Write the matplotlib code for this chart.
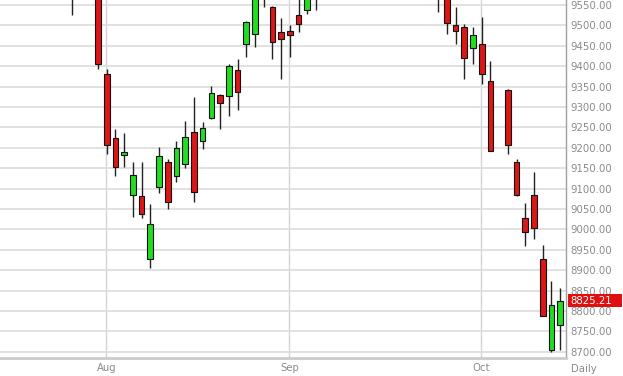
import matplotlib
matplotlib.use("Agg")
import matplotlib.pyplot as plt
import matplotlib.transforms as mtransforms
from matplotlib.patches import Rectangle
import numpy as np

# daily OHLC (values above ~9562 are off the top, rough guesses)
dates = ['2014-07-28', '2014-07-31', '2014-08-01', '2014-08-04', '2014-08-05',
         '2014-08-06', '2014-08-07', '2014-08-08', '2014-08-11', '2014-08-12',
         '2014-08-13', '2014-08-14', '2014-08-15', '2014-08-18', '2014-08-19',
         '2014-08-20', '2014-08-21', '2014-08-22', '2014-08-25', '2014-08-26',
         '2014-08-27', '2014-08-28', '2014-08-29', '2014-09-01', '2014-09-02',
         '2014-09-03', '2014-09-04', '2014-09-24', '2014-09-25', '2014-09-26',
         '2014-09-29', '2014-09-30', '2014-10-01', '2014-10-02', '2014-10-06',
         '2014-10-07', '2014-10-08', '2014-10-09', '2014-10-10', '2014-10-13',
         '2014-10-14']
opens = [9640, 9620, 9381, 9223, 9183, 9083, 9081, 8927, 9105, 9166,
         9132, 9159, 9239, 9217, 9274, 9329, 9327, 9391, 9454, 9480,
         9590, 9546, 9483, 9486, 9525, 9539, 9630, 9600, 9600, 9501,
         9495, 9444, 9454, 9364, 9342, 9164, 9028, 9084, 8927, 8703,
         8766]
highs = [9655, 9630, 9393, 9245, 9237, 9166, 9166, 9062, 9203, 9172,
         9217, 9266, 9325, 9264, 9351, 9332, 9405, 9417, 9512, 9610,
         9610, 9548, 9517, 9501, 9580, 9650, 9740, 9620, 9615, 9544,
         9503, 9497, 9521, 9413, 9343, 9172, 9065, 9140, 8962, 8873,
         8857]
lows = [9526, 9393, 9185, 9132, 9152, 9030, 9027, 8905, 9088, 9050,
        9117, 9150, 9066, 9196, 9270, 9246, 9279, 9293, 9423, 9446,
        9546, 9417, 9369, 9422, 9485, 9528, 9538, 9532, 9480, 9454,
        9369, 9405, 9356, 9193, 9185, 9081, 8959, 8976, 8788, 8699,
        8703]
closes = [9594, 9405, 9206, 9154, 9190, 9133, 9038, 9012, 9181, 9068,
          9199, 9226, 9091, 9248, 9335, 9311, 9401, 9337, 9509, 9590,
          9570, 9460, 9466, 9476, 9503, 9626, 9724, 9595, 9507, 9487,
          9421, 9476, 9381, 9193, 9207, 9083, 8993, 9003, 8788, 8815,
          8825.21]

month_starts = ['2014-08-01', '2014-09-01', '2014-10-01']
month_labels = ['Aug', 'Sep', 'Oct']
last_price = 8825.21

# trading day index, Aug 1 = 0
x = np.busday_count('2014-08-01', dates)
o = np.array(opens, float)
h = np.array(highs, float)
l = np.array(lows, float)
c = np.array(closes, float)
up = c >= o

fig = plt.figure(figsize=(6.23, 3.76), dpi=100)
ax = fig.add_axes([0, 358 / 376 * 0 + 18 / 376, 566 / 623, 358 / 376])

red = '#dd1616'
green = '#22dd22'
ax.vlines(x, l, h, color='#222222', lw=1.0, zorder=3)
ax.bar(x, np.abs(c - o), bottom=np.minimum(o, c), width=0.65,
       color=np.where(up, green, red), edgecolor='#111111', linewidth=0.8,
       zorder=4)

ax.set_xlim(-12.24, 52.67)
ax.set_ylim(8684.6, 9562.3)

ax.set_yticks(np.arange(8700, 9551, 50))
ax.yaxis.tick_right()
ax.yaxis.set_major_formatter(matplotlib.ticker.FormatStrFormatter('%.2f'))
ax.tick_params(axis='y', length=0, pad=3.5, labelsize=7.3, labelcolor='#8a8a8a')
ax.grid(axis='y', color='#dcdcdc', lw=1.2, zorder=0)

xm = np.busday_count('2014-08-01', month_starts)
ax.set_xticks(xm)
ax.set_xticklabels(month_labels)
ax.tick_params(axis='x', length=0, pad=3.5, labelsize=7.3, labelcolor='#8a8a8a')
for xv in xm:
    ax.axvline(xv - 0.07, color='#d4d4d4', lw=1.0, zorder=0)

ax.text(1.032, -0.031, 'Daily', transform=ax.transAxes, ha='center', va='center',
        fontsize=7.3, color='#8a8a8a')

for s in ['left', 'top']:
    ax.spines[s].set_visible(False)
ax.spines['bottom'].set_color('#cccccc')
ax.spines['bottom'].set_linewidth(2.0)
ax.spines['right'].set_color('#a0a0a0')
ax.spines['right'].set_linewidth(1.0)

# last price marker
trans = mtransforms.blended_transform_factory(ax.transAxes, ax.transData)
ax.add_patch(Rectangle((1.0035, last_price - 15.2), 0.0955, 30.4, transform=trans,
                       facecolor='#e01010', edgecolor='none', clip_on=False, zorder=5))
ax.text(1.0075, last_price, '%.2f' % last_price, transform=trans, ha='left',
        va='center', fontsize=7.3, color='white', zorder=6)

fig.savefig('out.png', dpi=100)
